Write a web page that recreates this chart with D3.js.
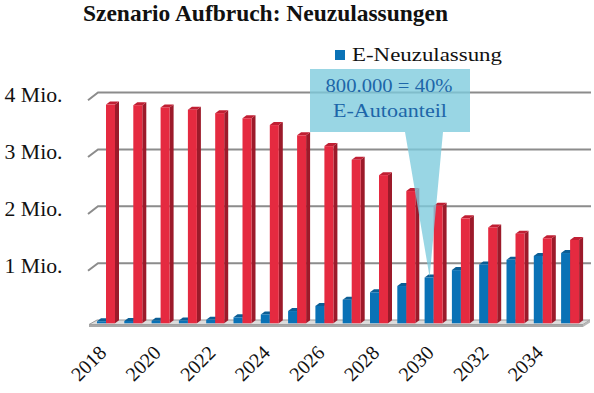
<!DOCTYPE html>
<html><head><meta charset="utf-8">
<script src="https://cdn.jsdelivr.net/npm/d3@7"></script>
<style>body{margin:0;background:#fff} svg{display:block}</style>
</head><body>
<svg id="chart" width="594" height="393"></svg>
<script>
const title = "Szenario Aufbruch: Neuzulassungen";
const years = ["2018","2019","2020","2021","2022","2023","2024","2025","2026","2027","2028","2029","2030","2031","2032","2033","2034","2035"];
const eNeuzulassung = [0.03,0.035,0.04,0.045,0.055,0.10,0.15,0.21,0.30,0.41,0.54,0.65,0.80,0.93,1.03,1.11,1.18,1.23];
const gesamt = [3.84,3.83,3.79,3.75,3.69,3.60,3.48,3.30,3.11,2.87,2.60,2.32,2.06,1.84,1.68,1.57,1.49,1.46];
const yTickValues = [1,2,3,4];
const yTickLabels = ["1 Mio.","2 Mio.","3 Mio.","4 Mio."];
const xTickLabels = ["2018","2020","2022","2024","2026","2028","2030","2032","2034"];
const legendLabel = "E-Neuzulassung";
const calloutLines = ["800.000 = 40%","E-Autoanteil"];
const calloutYear = "2030";

const FONT = "'Liberation Serif','Times New Roman',serif";
const svg = d3.select("#chart");

const wallLeft = 98, wallRight = 591;
const gdx = -10, gdy = 7.7;      // gridline depth offset
const bdx = 4, bdy = -3;         // bar depth offset

const y = d3.scaleLinear().domain([0, 4]).range([320, 92.5]);
const pIn = 9.3 / 27.3;
const x = d3.scaleBand().domain(years).range([92.35, 583.75]).paddingInner(pIn).paddingOuter(pIn / 2);
const xs = d3.scaleBand().domain(["e", "g"]).range([0, x.bandwidth()]);

const colors = {
  e: {front: "#0a72b6", side: "#064f80", top: "#0b5e95"},
  g: {front: "#e52a40", side: "#9c1a2a", top: "#c01f33"}
};

// gridlines (back wall + left diagonal)
const grid = svg.append("g");
yTickValues.forEach(v => {
  const yy = y(v);
  grid.append("path")
    .attr("d", `M${wallLeft + gdx},${yy + gdy}L${wallLeft},${yy}L${wallRight},${yy}`)
    .attr("fill", "none").attr("stroke", "#8c8c8c").attr("stroke-width", 2);
});

// floor
const fy = y(0);
const floor = svg.append("g");
floor.append("path").attr("d", `M${wallLeft - 1},${fy}L${wallRight - 1},${fy}L${wallRight - 8},${fy + 4.5}L${wallLeft - 9},${fy + 4.5}Z`)
  .attr("fill", "#dcdcdc").attr("stroke", "#9a9a9a").attr("stroke-width", 1);
floor.append("path").attr("d", `M${wallLeft - 9},${fy + 4.5}L${wallRight - 8},${fy + 4.5}L${wallRight - 8},${fy + 7}L${wallLeft - 9},${fy + 7}Z`)
  .attr("fill", "#a8a8a8");
floor.append("path").attr("d", `M${wallRight - 8},${fy + 4.5}L${wallRight - 1},${fy}L${wallRight - 1},${fy + 2.5}L${wallRight - 8},${fy + 7}Z`)
  .attr("fill", "#b8b8b8");

// bars
const baseFront = fy + 3.3;
const bars = svg.append("g");
function bar(x0, v, c) {
  const w = xs.bandwidth();
  const yb = y(v);            // back top edge
  const yf = yb - bdy;        // front top edge
  const g = bars.append("g");
  g.append("path").attr("d", `M${x0 + w},${yf}L${x0 + w + bdx},${yf + bdy}L${x0 + w + bdx},${baseFront + bdy}L${x0 + w},${baseFront}Z`).attr("fill", c.side);
  g.append("path").attr("d", `M${x0},${yf}L${x0 + w},${yf}L${x0 + w + bdx},${yf + bdy}L${x0 + bdx},${yf + bdy}Z`).attr("fill", c.top);
  g.append("rect").attr("x", x0).attr("y", yf).attr("width", w).attr("height", baseFront - yf).attr("fill", c.front);
}
years.forEach((yr, i) => {
  bar(x(yr) + xs("e"), eNeuzulassung[i], colors.e);
  bar(x(yr) + xs("g"), gesamt[i], colors.g);
});

// y labels
const yl = svg.append("g").attr("font-family", FONT).attr("font-size", 20).attr("fill", "#111");
yTickValues.forEach((v, i) => {
  yl.append("text").attr("x", 62.5).attr("y", y(v) + 9.8).attr("text-anchor", "end")
    .attr("textLength", 58).attr("lengthAdjust", "spacingAndGlyphs").text(yTickLabels[i]);
});

// x labels
const xl = svg.append("g").attr("font-family", FONT).attr("font-size", 20).attr("fill", "#111");
xTickLabels.forEach(lbl => {
  const px = x(lbl) + x.bandwidth() / 2 + 1.5;
  xl.append("text").attr("transform", `translate(${px},354) rotate(-45)`).attr("text-anchor", "end").text(lbl);
});

// title
svg.append("text").attr("x", 265.5).attr("y", 20.5).attr("text-anchor", "middle")
  .attr("font-family", FONT).attr("font-weight", "bold").attr("font-size", 23).attr("fill", "#111")
  .attr("textLength", 365).attr("lengthAdjust", "spacingAndGlyphs").text(title);

// legend
svg.append("rect").attr("x", 335).attr("y", 50).attr("width", 10).attr("height", 10).attr("fill", colors.e.front);
svg.append("text").attr("x", 352).attr("y", 60.5).attr("font-family", FONT).attr("font-size", 18.5).attr("fill", "#111")
  .attr("textLength", 150).attr("lengthAdjust", "spacingAndGlyphs").text(legendLabel);

// callout
const ci = years.indexOf(calloutYear);
const tipX = x(calloutYear) + xs("e") + xs.bandwidth() / 2 + 0.5;
const tipY = y(eNeuzulassung[ci]) + 2.5;
const cx0 = 310, cx1 = 470, cy0 = 69, cy1 = 132;
svg.append("path")
  .attr("d", `M${cx0},${cy0}L${cx1},${cy0}L${cx1},${cy1}L443,${cy1}L${tipX},${tipY}L405,${cy1}L${cx0},${cy1}Z`)
  .attr("fill", "#7ccbdd").attr("fill-opacity", 0.78);
const ct = svg.append("g").attr("font-family", FONT).attr("font-size", 19).attr("fill", "#1d66a9").attr("text-anchor", "middle");
ct.append("text").attr("x", 389).attr("y", 91.5).attr("textLength", 127).attr("lengthAdjust", "spacingAndGlyphs").text(calloutLines[0]);
ct.append("text").attr("x", 390).attr("y", 117).attr("textLength", 114).attr("lengthAdjust", "spacingAndGlyphs").text(calloutLines[1]);
</script>
</body></html>
